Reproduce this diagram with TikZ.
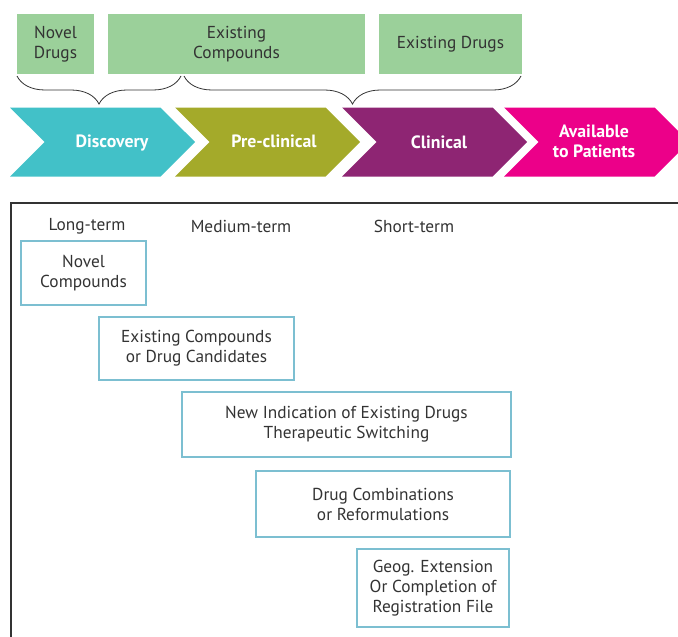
\documentclass[tikz,border=0pt]{standalone}
\usepackage{fontspec}
\setmainfont{PT Sans}
\usetikzlibrary{shapes.symbols,decorations.pathreplacing}

\definecolor{inkgray}{HTML}{333333}
\definecolor{leafgreen}{HTML}{9BD09A}
\definecolor{discteal}{HTML}{42C1C8}
\definecolor{preolive}{HTML}{A4AA2A}
\definecolor{clinplum}{HTML}{8E2573}
\definecolor{availpink}{HTML}{EC0089}
\definecolor{boxblue}{HTML}{7CBFD1}

\begin{document}
\begin{tikzpicture}[x=1pt, y=-1pt,
    every node/.style={font=\fontsize{17.3}{20}\selectfont, text=inkgray, align=center, inner sep=0pt, outer sep=0pt},
    group/.style={fill=leafgreen, minimum height=60pt},
    phase/.style={signal, signal from=west, signal to=east, signal pointer angle=90, minimum height=69pt, minimum width=185pt},
    phasetext/.style={text=white, font=\fontsize{17.8}{20}\selectfont\bfseries},
    option/.style={draw=boxblue, line width=2pt},
    curly/.style={decorate, decoration={brace, amplitude=28pt}, draw=inkgray, line width=0.8pt}
]
% Set manual bounding box
\useasboundingbox (0,0) rectangle (678,637);

% Groups of starting material
\node[group, minimum width=77pt] (novdrugs) at (55.5,44) {Novel\\Drugs};
\node[group, minimum width=257pt] (excomp) at (236.5,44) {Existing\\Compounds};
\node[group, minimum width=143pt] (exdrugs) at (450.5,44) {Existing Drugs};

\coordinate (b1s) at (17,76);
\coordinate (b1e) at (181,76);
\coordinate (b2s) at (184,76);
\coordinate (b2e) at (521,76);
\draw[curly] (b1e) -- (b1s);
\draw[curly] (b2e) -- (b2s);

% Pipeline phases
\node[phase, fill=discteal] (disc) at (102.5,142) {};
\node[phasetext] (disctxt) at (112,143) {Discovery};

\node[phase, fill=preolive] (precl) at (267.5,142) {};
\node[phasetext] (precltxt) at (274,141) {Pre-clinical};

\node[phase, fill=clinplum] (clin) at (434.5,142) {};
\node[phasetext] (clintxt) at (439,142) {Clinical};

\node[phase, fill=availpink] (avail) at (596.5,142) {};
\node[phasetext] (availtxt) at (594,141) {Available\\to Patients};

% Time frame panel
\coordinate (corner) at (11,203);
\coordinate (topend) at (678,203);
\coordinate (leftend) at (11,637);
\draw[inkgray, line width=1.2pt] (leftend) -- (corner) -- (topend);

\node (long) at (87,226) {Long-term};
\node (medium) at (241,226) {Medium-term};
\node (short) at (414,226) {Short-term};

% Repurposing options
\node[option, minimum width=125pt, minimum height=64pt] (novcomp) at (83.5,273) {Novel\\Compounds};
\node[option, minimum width=195pt, minimum height=63pt] (excand) at (196.5,348.5) {Existing Compounds\\or Drug Candidates};
\node[option, minimum width=329pt, minimum height=65pt] (newind) at (346.5,424.5) {New Indication of Existing Drugs\\Therapeutic Switching};
\node[option, minimum width=254pt, minimum height=66pt] (combi) at (383,504) {Drug Combinations\\or Reformulations};
\node[option, minimum width=152pt, minimum height=78pt] (geog) at (433,588) {Geog. Extension\\Or Completion of\\Registration File};

\end{tikzpicture}
\end{document}
